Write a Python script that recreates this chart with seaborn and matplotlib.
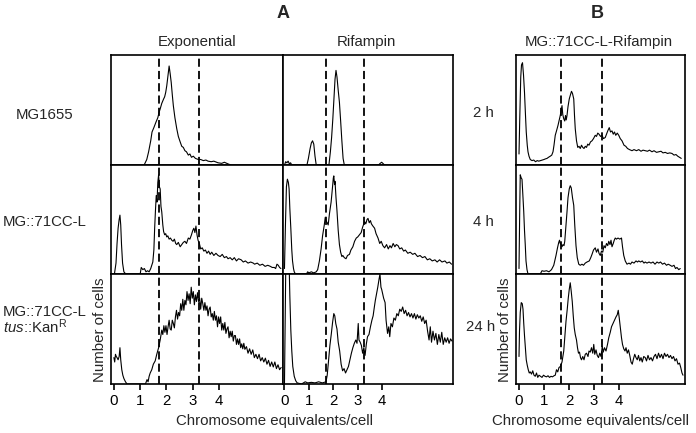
import matplotlib
matplotlib.use("Agg")
import matplotlib.pyplot as plt
import seaborn as sns
import pandas as pd

# flow cytometry histograms, x = chromosome equivalents/cell, y = relative number of cells
exp_mg1655 = [(1.15, 0), (1.25, 0.05), (1.32, 0.12), (1.40, 0.22), (1.45, 0.30), (1.52, 0.34), (1.60, 0.39),
              (1.67, 0.43), (1.72, 0.48), (1.76, 0.51), (1.82, 0.56), (1.89, 0.60), (1.93, 0.62), (1.97, 0.66),
              (2.01, 0.72), (2.05, 0.80), (2.10, 0.90), (2.14, 0.83), (2.18, 0.75), (2.22, 0.64), (2.26, 0.54),
              (2.32, 0.43), (2.39, 0.33), (2.45, 0.26), (2.52, 0.21), (2.58, 0.17), (2.64, 0.16), (2.70, 0.13),
              (2.76, 0.12), (2.83, 0.09), (2.89, 0.10), (2.95, 0.07), (3.02, 0.08), (3.10, 0.06), (3.21, 0.05),
              (3.30, 0.05), (3.40, 0.04), (3.50, 0.045), (3.58, 0.035), (3.70, 0.03), (3.80, 0.035), (3.96, 0.02),
              (4.10, 0.015), (4.20, 0.025), (4.34, 0.01), (4.45, 0)]

rif_mg1655 = [(0.0, 0), (0.05, 0.03), (0.10, 0.02), (0.15, 0.035), (0.20, 0.01), (0.25, 0.02), (0.30, 0),
              (0.92, 0), (0.98, 0.06), (1.05, 0.15), (1.10, 0.20), (1.15, 0.22), (1.20, 0.19), (1.25, 0.08),
              (1.30, 0), (1.82, 0), (1.88, 0.12), (1.93, 0.25), (1.98, 0.42), (2.03, 0.62), (2.07, 0.78),
              (2.11, 0.86), (2.15, 0.80), (2.20, 0.68), (2.25, 0.57), (2.30, 0.40), (2.35, 0.22), (2.40, 0.06),
              (2.45, 0), (3.85, 0), (3.92, 0.015), (3.98, 0.025), (4.05, 0.01), (4.10, 0)]

exp_71cc = [(0.02, 0), (0.08, 0.10), (0.12, 0.28), (0.16, 0.42), (0.20, 0.50), (0.23, 0.54), (0.26, 0.45),
            (0.29, 0.27), (0.33, 0.10), (0.38, 0.02), (0.45, 0), (1.00, 0), (1.04, 0.06), (1.10, 0.04),
            (1.16, 0.05), (1.22, 0.02), (1.28, 0.03), (1.34, 0.02), (1.40, 0.05), (1.44, 0.08), (1.48, 0.11),
            (1.52, 0.22), (1.55, 0.42), (1.58, 0.58), (1.61, 0.72), (1.64, 0.66), (1.67, 0.84), (1.70, 0.91),
            (1.73, 0.80), (1.76, 0.78), (1.79, 0.62), (1.82, 0.57), (1.86, 0.45), (1.89, 0.39), (1.93, 0.36),
            (1.97, 0.37), (2.01, 0.34), (2.05, 0.35), (2.10, 0.32), (2.15, 0.33), (2.20, 0.31), (2.25, 0.30),
            (2.30, 0.32), (2.35, 0.28), (2.39, 0.27), (2.45, 0.29), (2.52, 0.25), (2.58, 0.27), (2.64, 0.29),
            (2.70, 0.30), (2.76, 0.28), (2.83, 0.33), (2.89, 0.32), (2.95, 0.36), (3.00, 0.40), (3.04, 0.42),
            (3.08, 0.38), (3.12, 0.44), (3.16, 0.36), (3.20, 0.31), (3.25, 0.28), (3.30, 0.23), (3.36, 0.24),
            (3.42, 0.21), (3.48, 0.22), (3.54, 0.19), (3.60, 0.21), (3.66, 0.18), (3.72, 0.20), (3.80, 0.17),
            (3.88, 0.19), (3.96, 0.17), (4.04, 0.16), (4.12, 0.18), (4.20, 0.15), (4.28, 0.16), (4.34, 0.14),
            (4.42, 0.15), (4.50, 0.13), (4.58, 0.15), (4.66, 0.12), (4.74, 0.14), (4.84, 0.13), (4.92, 0.11),
            (5.00, 0.12), (5.10, 0.10), (5.20, 0.11), (5.30, 0.10), (5.35, 0.09), (5.45, 0.10), (5.55, 0.08),
            (5.65, 0.09), (5.75, 0.07), (5.85, 0.08), (5.95, 0.07), (6.02, 0.06), (6.10, 0.06), (6.15, 0.05),
            (6.20, 0.09), (6.25, 0.08), (6.30, 0.06), (6.35, 0.05)]

rif_71cc = [(0.0, 0.05), (0.04, 0.45), (0.08, 0.80), (0.12, 0.87), (0.16, 0.84), (0.19, 0.78), (0.22, 0.60),
            (0.26, 0.42), (0.30, 0.22), (0.33, 0.12), (0.37, 0.05), (0.40, 0.02), (0.45, 0), (0.90, 0),
            (0.95, 0.02), (1.00, 0.01), (1.10, 0.02), (1.20, 0.01), (1.30, 0.02), (1.36, 0.04), (1.43, 0.12),
            (1.50, 0.23), (1.56, 0.35), (1.63, 0.45), (1.67, 0.52), (1.70, 0.49), (1.75, 0.47), (1.79, 0.45),
            (1.84, 0.55), (1.91, 0.66), (1.96, 0.78), (2.00, 0.88), (2.02, 0.90), (2.05, 0.82), (2.07, 0.85),
            (2.11, 0.70), (2.15, 0.58), (2.20, 0.40), (2.25, 0.27), (2.30, 0.20), (2.35, 0.16), (2.39, 0.17),
            (2.45, 0.15), (2.52, 0.14), (2.58, 0.17), (2.66, 0.18), (2.72, 0.22), (2.80, 0.25), (2.87, 0.30),
            (2.94, 0.33), (3.00, 0.34), (3.07, 0.36), (3.14, 0.38), (3.20, 0.43), (3.28, 0.48), (3.33, 0.46),
            (3.38, 0.50), (3.42, 0.51), (3.47, 0.47), (3.52, 0.49), (3.56, 0.46), (3.62, 0.44), (3.69, 0.42),
            (3.75, 0.37), (3.83, 0.33), (3.90, 0.28), (3.96, 0.30), (4.03, 0.26), (4.10, 0.24), (4.18, 0.27),
            (4.25, 0.23), (4.32, 0.26), (4.38, 0.24), (4.45, 0.28), (4.52, 0.25), (4.58, 0.27), (4.65, 0.26),
            (4.72, 0.23), (4.80, 0.24), (4.88, 0.21), (4.95, 0.22), (5.05, 0.19), (5.15, 0.20), (5.25, 0.18),
            (5.34, 0.19), (5.45, 0.16), (5.55, 0.17), (5.65, 0.15), (5.75, 0.16), (5.85, 0.13), (5.95, 0.14),
            (6.05, 0.12), (6.16, 0.13), (6.25, 0.11), (6.35, 0.13), (6.45, 0.11), (6.57, 0.12), (6.65, 0.10),
            (6.75, 0.11), (6.84, 0.09)]

exp_tus = [(0.0, 0.24), (0.03, 0.20), (0.06, 0.27), (0.09, 0.25), (0.12, 0.24), (0.16, 0.22), (0.20, 0.25),
           (0.23, 0.33), (0.26, 0.22), (0.30, 0.13), (0.34, 0.08), (0.38, 0.05), (0.44, 0.02), (0.50, 0),
           (1.20, 0), (1.26, 0.04), (1.30, 0.02), (1.34, 0.07), (1.38, 0.10), (1.44, 0.13), (1.50, 0.18),
           (1.57, 0.21), (1.63, 0.27), (1.70, 0.33), (1.76, 0.40), (1.82, 0.49), (1.86, 0.45), (1.90, 0.53),
           (1.94, 0.47), (1.98, 0.53), (2.02, 0.45), (2.06, 0.52), (2.10, 0.58), (2.14, 0.50), (2.18, 0.49),
           (2.22, 0.58), (2.26, 0.55), (2.30, 0.51), (2.34, 0.61), (2.38, 0.67), (2.42, 0.59), (2.46, 0.65),
           (2.50, 0.62), (2.54, 0.73), (2.58, 0.67), (2.62, 0.77), (2.66, 0.67), (2.70, 0.76), (2.74, 0.72),
           (2.78, 0.84), (2.82, 0.76), (2.86, 0.82), (2.90, 0.73), (2.94, 0.88), (2.98, 0.78), (3.02, 0.84),
           (3.06, 0.72), (3.10, 0.81), (3.14, 0.75), (3.18, 0.83), (3.22, 0.75), (3.26, 0.78), (3.30, 0.68),
           (3.34, 0.78), (3.38, 0.73), (3.42, 0.67), (3.46, 0.74), (3.50, 0.67), (3.54, 0.71), (3.58, 0.62),
           (3.62, 0.68), (3.66, 0.70), (3.70, 0.61), (3.74, 0.64), (3.78, 0.58), (3.82, 0.66), (3.86, 0.58),
           (3.90, 0.62), (3.94, 0.52), (3.98, 0.61), (4.02, 0.55), (4.06, 0.61), (4.10, 0.49), (4.14, 0.55),
           (4.18, 0.49), (4.22, 0.56), (4.26, 0.46), (4.30, 0.50), (4.34, 0.52), (4.38, 0.42), (4.42, 0.48),
           (4.46, 0.43), (4.50, 0.48), (4.54, 0.39), (4.58, 0.44), (4.62, 0.44), (4.66, 0.36), (4.70, 0.41),
           (4.74, 0.36), (4.78, 0.41), (4.82, 0.33), (4.86, 0.365), (4.90, 0.32), (4.94, 0.37), (4.98, 0.315),
           (5.04, 0.34), (5.10, 0.28), (5.16, 0.32), (5.22, 0.27), (5.28, 0.31), (5.34, 0.24), (5.40, 0.27),
           (5.46, 0.23), (5.52, 0.27), (5.58, 0.21), (5.64, 0.24), (5.70, 0.20), (5.76, 0.235), (5.82, 0.18),
           (5.88, 0.215), (5.94, 0.16), (6.00, 0.20), (6.06, 0.155), (6.12, 0.20), (6.18, 0.14), (6.24, 0.175),
           (6.30, 0.13), (6.36, 0.15)]

rif_tus = [(0.0, 0.0), (0.03, 0.6), (0.06, 1.2), (0.18, 1.2), (0.22, 0.80), (0.26, 0.49), (0.30, 0.30),
           (0.34, 0.16), (0.40, 0.07), (0.46, 0.03), (0.52, 0.01), (0.70, 0.0), (0.85, 0.02), (0.95, 0.01),
           (1.10, 0.015), (1.25, 0.01), (1.40, 0.02), (1.55, 0.01), (1.70, 0.02), (1.75, 0.08), (1.80, 0.20),
           (1.86, 0.35), (1.92, 0.46), (1.97, 0.56), (2.02, 0.64), (2.06, 0.62), (2.10, 0.55), (2.15, 0.50),
           (2.20, 0.38), (2.26, 0.30), (2.32, 0.18), (2.38, 0.12), (2.44, 0.14), (2.50, 0.10), (2.56, 0.13),
           (2.62, 0.16), (2.68, 0.22), (2.74, 0.28), (2.80, 0.33), (2.86, 0.37), (2.92, 0.40), (2.97, 0.37),
           (3.02, 0.55), (3.05, 0.40), (3.10, 0.38), (3.15, 0.35), (3.20, 0.28), (3.25, 0.33), (3.30, 0.26),
           (3.35, 0.36), (3.40, 0.43), (3.46, 0.45), (3.52, 0.52), (3.58, 0.58), (3.63, 0.62), (3.68, 0.70),
           (3.72, 0.76), (3.77, 0.82), (3.82, 0.88), (3.87, 0.95), (3.91, 1.00), (3.95, 0.88), (3.98, 0.86),
           (4.02, 0.82), (4.06, 0.78), (4.12, 0.74), (4.16, 0.58), (4.22, 0.46), (4.27, 0.52), (4.31, 0.43),
           (4.36, 0.55), (4.42, 0.52), (4.48, 0.60), (4.54, 0.58), (4.60, 0.64), (4.66, 0.62), (4.72, 0.68),
           (4.78, 0.66), (4.84, 0.70), (4.90, 0.64), (4.96, 0.67), (5.02, 0.62), (5.08, 0.65), (5.14, 0.61),
           (5.20, 0.64), (5.26, 0.60), (5.32, 0.64), (5.38, 0.59), (5.44, 0.63), (5.50, 0.60), (5.56, 0.62),
           (5.62, 0.57), (5.68, 0.61), (5.74, 0.55), (5.80, 0.58), (5.86, 0.48), (5.92, 0.40), (5.97, 0.52),
           (6.02, 0.38), (6.08, 0.48), (6.14, 0.40), (6.20, 0.46), (6.26, 0.36), (6.32, 0.45), (6.38, 0.38),
           (6.44, 0.47), (6.50, 0.36), (6.56, 0.42), (6.62, 0.38), (6.68, 0.42), (6.74, 0.37), (6.80, 0.41),
           (6.86, 0.39)]

b_2h = [(0.0, 0.10), (0.03, 0.42), (0.07, 0.80), (0.10, 0.91), (0.14, 0.93), (0.18, 0.82), (0.22, 0.66),
        (0.26, 0.45), (0.29, 0.30), (0.33, 0.18), (0.36, 0.12), (0.40, 0.08), (0.45, 0.05), (0.52, 0.04),
        (0.59, 0.045), (0.66, 0.03), (0.73, 0.04), (0.79, 0.035), (0.86, 0.04), (0.93, 0.045), (1.00, 0.05),
        (1.05, 0.055), (1.12, 0.06), (1.18, 0.07), (1.25, 0.08), (1.31, 0.09), (1.36, 0.12), (1.40, 0.18),
        (1.45, 0.27), (1.50, 0.31), (1.56, 0.36), (1.60, 0.40), (1.65, 0.45), (1.69, 0.50), (1.72, 0.54),
        (1.75, 0.46), (1.79, 0.42), (1.83, 0.40), (1.86, 0.45), (1.89, 0.41), (1.92, 0.45), (1.96, 0.53),
        (2.01, 0.60), (2.06, 0.64), (2.10, 0.67), (2.14, 0.65), (2.19, 0.60), (2.22, 0.45), (2.25, 0.33),
        (2.30, 0.22), (2.35, 0.16), (2.40, 0.17), (2.45, 0.15), (2.50, 0.18), (2.55, 0.16), (2.60, 0.15),
        (2.65, 0.17), (2.70, 0.16), (2.75, 0.19), (2.80, 0.18), (2.86, 0.21), (2.92, 0.22), (2.98, 0.24),
        (3.05, 0.27), (3.10, 0.26), (3.15, 0.29), (3.20, 0.28), (3.26, 0.26), (3.32, 0.27), (3.38, 0.24),
        (3.45, 0.25), (3.50, 0.28), (3.55, 0.31), (3.61, 0.34), (3.66, 0.30), (3.72, 0.31), (3.77, 0.28),
        (3.82, 0.30), (3.87, 0.27), (3.93, 0.29), (3.99, 0.27), (4.05, 0.24), (4.12, 0.22), (4.20, 0.18),
        (4.27, 0.17), (4.34, 0.15), (4.42, 0.14), (4.52, 0.13), (4.60, 0.14), (4.70, 0.13), (4.79, 0.14),
        (4.88, 0.125), (4.96, 0.135), (5.05, 0.13), (5.14, 0.125), (5.22, 0.135), (5.32, 0.12), (5.40, 0.13),
        (5.50, 0.115), (5.59, 0.12), (5.68, 0.125), (5.76, 0.11), (5.85, 0.115), (5.94, 0.105), (6.03, 0.11),
        (6.12, 0.105), (6.20, 0.09), (6.28, 0.095), (6.35, 0.08), (6.42, 0.07), (6.49, 0.06)]

b_4h = [(0.0, 0.05), (0.03, 0.60), (0.05, 0.91), (0.09, 0.88), (0.12, 0.87), (0.16, 0.70), (0.19, 0.57),
        (0.22, 0.40), (0.25, 0.27), (0.28, 0.12), (0.32, 0.04), (0.36, 0.0), (0.85, 0.0), (0.92, 0.03),
        (1.00, 0.025), (1.10, 0.03), (1.20, 0.02), (1.30, 0.04), (1.39, 0.08), (1.44, 0.13), (1.48, 0.17),
        (1.54, 0.24), (1.59, 0.29), (1.62, 0.31), (1.65, 0.28), (1.69, 0.27), (1.72, 0.25), (1.76, 0.27),
        (1.80, 0.26), (1.83, 0.30), (1.88, 0.45), (1.92, 0.57), (1.96, 0.70), (2.01, 0.78), (2.05, 0.81),
        (2.09, 0.79), (2.14, 0.70), (2.19, 0.63), (2.23, 0.45), (2.28, 0.26), (2.33, 0.15), (2.39, 0.09),
        (2.45, 0.08), (2.52, 0.09), (2.58, 0.08), (2.65, 0.10), (2.72, 0.11), (2.81, 0.12), (2.87, 0.15),
        (2.92, 0.18), (2.98, 0.22), (3.05, 0.24), (3.10, 0.20), (3.16, 0.23), (3.20, 0.19), (3.25, 0.17),
        (3.30, 0.21), (3.35, 0.20), (3.40, 0.26), (3.45, 0.24), (3.50, 0.28), (3.55, 0.26), (3.59, 0.30),
        (3.64, 0.27), (3.68, 0.31), (3.72, 0.25), (3.77, 0.28), (3.81, 0.31), (3.85, 0.33), (3.90, 0.32),
        (3.96, 0.33), (4.03, 0.32), (4.10, 0.33), (4.14, 0.25), (4.19, 0.17), (4.25, 0.12), (4.32, 0.09),
        (4.40, 0.10), (4.46, 0.09), (4.52, 0.11), (4.60, 0.10), (4.68, 0.12), (4.74, 0.11), (4.79, 0.12),
        (4.86, 0.11), (4.93, 0.12), (5.00, 0.10), (5.05, 0.11), (5.12, 0.10), (5.20, 0.11), (5.28, 0.10),
        (5.36, 0.11), (5.44, 0.09), (5.52, 0.11), (5.59, 0.10), (5.66, 0.11), (5.74, 0.09), (5.82, 0.10),
        (5.90, 0.08), (5.97, 0.09), (6.05, 0.08), (6.12, 0.07), (6.20, 0.08), (6.26, 0.05), (6.32, 0.06),
        (6.39, 0.04), (6.45, 0.05)]

b_24h = [(0.0, 0.25), (0.02, 0.48), (0.05, 0.65), (0.09, 0.74), (0.13, 0.73), (0.16, 0.68), (0.19, 0.55),
         (0.22, 0.44), (0.26, 0.32), (0.29, 0.22), (0.33, 0.17), (0.37, 0.13), (0.41, 0.10), (0.45, 0.11),
         (0.50, 0.09), (0.55, 0.12), (0.60, 0.08), (0.65, 0.07), (0.70, 0.10), (0.75, 0.06), (0.80, 0.08),
         (0.86, 0.07), (0.92, 0.06), (0.98, 0.08), (1.04, 0.07), (1.10, 0.065), (1.16, 0.075), (1.22, 0.06),
         (1.28, 0.07), (1.34, 0.065), (1.40, 0.075), (1.45, 0.08), (1.50, 0.13), (1.55, 0.11), (1.60, 0.15),
         (1.66, 0.16), (1.72, 0.20), (1.79, 0.30), (1.84, 0.45), (1.88, 0.57), (1.93, 0.68), (1.97, 0.78),
         (2.01, 0.86), (2.05, 0.92), (2.09, 0.84), (2.13, 0.75), (2.17, 0.62), (2.21, 0.51), (2.25, 0.45),
         (2.30, 0.40), (2.34, 0.33), (2.38, 0.28), (2.42, 0.29), (2.46, 0.24), (2.50, 0.22), (2.55, 0.25),
         (2.60, 0.22), (2.65, 0.27), (2.70, 0.28), (2.76, 0.25), (2.80, 0.30), (2.85, 0.29), (2.90, 0.33),
         (2.95, 0.28), (2.99, 0.36), (3.03, 0.27), (3.08, 0.31), (3.13, 0.26), (3.18, 0.24), (3.23, 0.28),
         (3.28, 0.25), (3.33, 0.34), (3.37, 0.29), (3.42, 0.33), (3.48, 0.30), (3.54, 0.36), (3.59, 0.42),
         (3.65, 0.47), (3.70, 0.52), (3.76, 0.55), (3.82, 0.58), (3.88, 0.61), (3.93, 0.63), (3.97, 0.67),
         (4.01, 0.60), (4.05, 0.52), (4.10, 0.42), (4.14, 0.36), (4.19, 0.32), (4.24, 0.30), (4.28, 0.33),
         (4.33, 0.28), (4.38, 0.31), (4.43, 0.26), (4.48, 0.20), (4.53, 0.18), (4.58, 0.23), (4.63, 0.27),
         (4.68, 0.24), (4.73, 0.22), (4.78, 0.26), (4.83, 0.21), (4.88, 0.24), (4.93, 0.20), (4.99, 0.25),
         (5.05, 0.24), (5.10, 0.21), (5.16, 0.26), (5.22, 0.22), (5.28, 0.24), (5.34, 0.21), (5.40, 0.25),
         (5.46, 0.27), (5.52, 0.23), (5.58, 0.28), (5.64, 0.24), (5.70, 0.27), (5.76, 0.23), (5.82, 0.28),
         (5.88, 0.25), (5.94, 0.27), (6.00, 0.24), (6.06, 0.26), (6.12, 0.23), (6.18, 0.25), (6.24, 0.21),
         (6.30, 0.23), (6.36, 0.18), (6.42, 0.19), (6.47, 0.15), (6.52, 0.10), (6.56, 0.08)]

dashed_at = [[1.7, 3.25], [1.71, 3.26], [1.69, 3.3]]
tick_vals = [0, 1, 2, 3, 4]
strain_labels = ["MG1655", "MG::71CC-L"]
time_labels = ["2 h", "4 h", "24 h"]
col_titles = ["Exponential", "Rifampin", "MG::71CC-L-Rifampin"]

sns.set_theme(style="white")
plt.rcParams["font.family"] = ["Liberation Sans", "DejaVu Sans"]
plt.rcParams["mathtext.fontset"] = "custom"
plt.rcParams["mathtext.rm"] = "Liberation Sans"
plt.rcParams["mathtext.it"] = "Liberation Sans:italic"

W, H = 696, 433
fig = plt.figure(figsize=(W / 100, H / 100), dpi=100)
fig.patch.set_facecolor("white")
FS = 10.8


def ftext(x, y, s, **kw):
    # place text by pixel position (origin top left)
    kw.setdefault("fontsize", FS)
    return fig.text(x / W, 1 - y / H, s, **kw)


col_edges = [(111, 283), (283, 453), (516, 685)]
row_edges = [(55, 165), (165, 274), (274, 384)]
col_xlim = [(-0.11, 6.43), (-0.06, 6.90), (-0.12, 6.64)]
curves = [[exp_mg1655, rif_mg1655, b_2h],
          [exp_71cc, rif_71cc, b_4h],
          [exp_tus, rif_tus, b_24h]]

for r, (top, bot) in enumerate(row_edges):
    for c, (left, right) in enumerate(col_edges):
        ax = fig.add_axes([left / W, 1 - bot / H, (right - left) / W, (bot - top) / H])
        df = pd.DataFrame(curves[r][c], columns=["chrom", "cells"])
        sns.lineplot(data=df, x="chrom", y="cells", ax=ax, color="black",
                     lw=0.8, sort=False, estimator=None)
        for d in dashed_at[c]:
            ax.axvline(d, color="black", lw=1.3, ls=(0, (4.5, 2.3)))
        ax.set_xlim(*col_xlim[c])
        ax.set_ylim(0, 1)
        ax.set_xlabel("")
        ax.set_ylabel("")
        ax.set_yticks([])
        for sp in ax.spines.values():
            sp.set_color("black")
            sp.set_linewidth(1.2)
        if r == 2:
            ax.set_xticks(tick_vals)
            ax.set_xticklabels([str(t) for t in tick_vals])
            ax.tick_params(axis="x", bottom=True, direction="out", length=4,
                           width=1.2, pad=3, labelsize=FS, colors="black")
        else:
            ax.set_xticks([])

# headings
ftext(283, 14, "A", ha="center", va="center", fontsize=13, fontweight="bold")
ftext(597, 14, "B", ha="center", va="center", fontsize=13, fontweight="bold")
ftext(197, 42, col_titles[0], ha="center", va="center")
ftext(366, 42, col_titles[1], ha="center", va="center")
ftext(599, 42, col_titles[2], ha="center", va="center")

# strain labels
ftext(45, 115, strain_labels[0], ha="center", va="center")
ftext(45, 222, strain_labels[1], ha="center", va="center")
ftext(3, 312, strain_labels[1], ha="left", va="center")
ftext(3, 327, r"$\mathit{tus}$::Kan$^{\mathrm{R}}$", ha="left", va="center")

# time points
ftext(483, 113, time_labels[0], ha="center", va="center")
ftext(483, 222, time_labels[1], ha="center", va="center")
ftext(481, 327, time_labels[2], ha="center", va="center")

# axis titles
ftext(274, 421, "Chromosome equivalents/cell", ha="center", va="center")
ftext(591, 421, "Chromosome equivalents/cell", ha="center", va="center")
ftext(100, 382, "Number of cells", ha="center", va="bottom", rotation=90)
ftext(505, 382, "Number of cells", ha="center", va="bottom", rotation=90)

fig.savefig("out.png", dpi=100, facecolor="white")
